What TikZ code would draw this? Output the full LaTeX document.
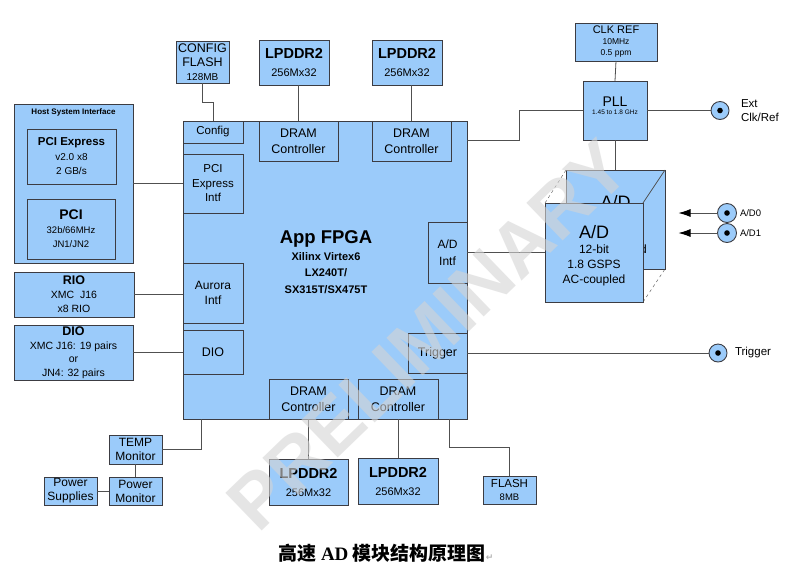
\documentclass[tikz,border=0pt]{standalone}
\usepackage{fontspec}
\setmainfont{Liberation Sans}
\newfontfamily\cjkfont{Noto Sans CJK SC}
\newfontfamily\timesfont{Liberation Serif}
\newfontfamily\symfont{DejaVu Sans}
\usetikzlibrary{positioning,calc,arrows.meta}
\definecolor{boxblue}{RGB}{155,203,250}
\definecolor{edgegray}{RGB}{60,60,66}
\definecolor{wiregray}{RGB}{80,80,80}
\definecolor{wmgray}{RGB}{212,212,212}
\newcommand\fsz[2]{\fontsize{#1}{#2}\selectfont}
\tikzset{
  blockpic/.style={x=1pt,y=-1pt,inner sep=0pt,outer sep=0pt}
  ,wh/.style 2 args={minimum width=#1pt,minimum height=#2pt}
  ,blk/.style={draw=edgegray,line width=.9pt,fill=boxblue,align=center
    ,font=\fsz{12.5}{16}}
  ,wire/.style={draw=wiregray,line width=.8pt}
  ,cubeedge/.style={draw=wiregray,line width=.4pt,dashed}
  ,jack/.style={circle,draw=edgegray,line width=.9pt,fill=boxblue
    ,minimum size=18pt
    ,path picture={\fill[black] (path picture bounding box.center) circle (2.8pt);}}
  ,jacklabel/.style={align=left,font=\fsz{11.5}{13.5}}
  ,sig/.style={wire,-{Latex[length=12pt,width=8pt,black]}}
  ,watermark/.style={font=\bfseries\fsz{76}{76},text=wmgray,opacity=.6}
}
\newcommand\lpddrblock[3]{
\node[blk,#2,font=\fsz{11}{18}] (#1) at (#3) {{\bfseries\fsz{14.5}{18}LPDDR2}\\256Mx32};
}
\newcommand\adtext{{\fsz{18}{20}A/D}\\12-bit\\1.8 GSPS\\AC-coupled}

\begin{document}
\begin{tikzpicture}[blockpic]
  \path[use as bounding box,fill=white] (0,0) rectangle (786,574);
  % host side
  \node[blk,wh={119}{159}] (hostsys) at (73.5,183.5) {};
  \node[font=\bfseries\fsz{8}{9}] (hosttitle) at (73.5,112) {Host System Interface};
  \node[blk,wh={89}{55},font=\fsz{10}{14.5}] (pcie) at (71.5,156.5)
    {{\bfseries\fsz{11.5}{14.5}PCI Express}\\v2.0 x8\\2 GB/s};
  \node[blk,wh={88}{60},font=\fsz{9.5}{14}] (pci) at (71,229)
    {{\bfseries\fsz{14}{17}PCI}\\32b/66MHz\\JN1/JN2};
  \node[blk,wh={120}{45},font=\fsz{10.5}{14}] (rio) at (74,294.5)
    {{\bfseries\fsz{12.5}{14}RIO}\\XMC\ \ J16\\x8 RIO};
  \node[blk,wh={119}{55},font=\fsz{10.5}{13.5}] (dio) at (73.5,352.5)
    {{\bfseries\fsz{12.5}{15}DIO}\\XMC J16: 19 pairs\\or\\JN4: 32 pairs};
  % fpga
  \node[blk,wh={284}{298}] (fpga) at (325,270) {};
  \node[align=center,font=\bfseries\fsz{11}{16.5}] (fpgatitle) at (326,262)
    {{\fsz{18.5}{18}App FPGA}\\Xilinx Virtex6\\LX240T/\\SX315T/SX475T};
  \node[blk,wh={60}{22},font=\fsz{11.5}{14}] (config) at (213,132) {Config};
  \node[blk,wh={60}{59},font=\fsz{11.5}{14.5}] (pcieintf) at (213,183.5) {PCI\\Express\\Intf};
  \node[blk,wh={60}{60},font=\fsz{12}{15}] (aurora) at (213,293) {Aurora\\Intf};
  \node[blk,wh={60}{44}] (diointf) at (213,352) {DIO};
  \node[blk,wh={79}{40}] (dramtl) at (298.5,141) {DRAM\\Controller};
  \node[blk,wh={79}{40}] (dramtr) at (411.5,141) {DRAM\\Controller};
  \node[blk,wh={79}{40}] (drambl) at (308.5,399) {DRAM\\Controller};
  \node[blk,wh={80}{40}] (drambr) at (398,399) {DRAM\\Controller};
  \node[blk,wh={39}{61},font=\fsz{12}{17}] (adintf) at (447.5,252.5) {A/D\\Intf};
  \node[blk,wh={59}{40}] (trig) at (437.5,353) {Trigger};
  % memories and flash
  \lpddrblock{lpddrtl}{wh={70}{45}}{294,62.5}
  \lpddrblock{lpddrtr}{wh={70}{45}}{407,62.5}
  \lpddrblock{lpddrbl}{wh={79}{46}}{308.5,482}
  \lpddrblock{lpddrbr}{wh={80}{46}}{398,481}
  \node[blk,wh={53}{42},font=\fsz{12.5}{14}] (cfgflash) at (202.5,62)
    {CONFIG\\FLASH\\{\fsz{10}{14}128MB}};
  \node[blk,wh={53}{28},font=\fsz{9.5}{13}] (flash) at (509.5,490)
    {{\fsz{11.5}{13}FLASH}\\8MB};
  % monitors
  \node[blk,wh={53}{29},font=\fsz{12}{14}] (temp) at (135.5,449.5) {TEMP\\Monitor};
  \node[blk,wh={53}{28},font=\fsz{12}{14}] (pwrmon) at (135.5,491) {Power\\Monitor};
  \node[blk,wh={53}{28},font=\fsz{12}{14}] (pwrsup) at (70.5,491) {Power\\Supplies};
  % clock
  \node[blk,wh={82}{38},font=\fsz{8.5}{11}] (clkref) at (616,42)
    {{\fsz{11}{13}CLK REF}\\10MHz\\0.5 ppm};
  \node[blk,wh={64}{59}] (pll) at (615,110.5) {};
  \node[align=center,font=\fsz{6.5}{8}] (plltext) at ([yshift=5pt]pll.center)
    {{\fsz{14}{13}PLL}\\1.45 to 1.8 GHz};
  % a/d cube
  \node[blk,wh={99}{99}] (adback) at (615.5,219.5) {};
  \node[align=center,font=\fsz{12}{15}] (adbacktext) at ([yshift=-6pt]adback.center) {\adtext};
  \node[blk,wh={98}{99}] (adfront) at (594,252.5) {};
  \node[align=center,font=\fsz{12}{15}] (adfronttext) at ([yshift=-3pt]adfront.center) {\adtext};
  \draw[cubeedge] (adfront.north west) -- (adback.north west);
  \draw[cubeedge] (adfront.south east) -- (adback.south east);
  \draw[wire] (adfront.north east) -- (adback.north east);
  % jacks
  \node[jack] (extclk) at (720,110.5) {};
  \node[jack,minimum size=19pt] (ad0) at (727,213) {};
  \node[jack,minimum size=19pt] (ad1) at (727,233) {};
  \node[jack] (trigjack) at (718,353) {};
  \node[jacklabel,right=12pt of extclk] (extlbl) {Ext\\Clk/Ref};
  \node[jacklabel,font=\fsz{9.5}{11},right=3.5pt of ad0] (ad0lbl) {A/D0};
  \node[jacklabel,font=\fsz{9.5}{11},right=3.5pt of ad1] (ad1lbl) {A/D1};
  \node[jacklabel,right=8pt of trigjack] (triglbl) {Trigger};
  % wires
  \draw[wire] (hostsys.east) -- (pcieintf.west);
  \draw[wire] (rio.east) -- (rio.east -| aurora.west);
  \draw[wire] (dio.east) -- (dio.east -| diointf.west);
  \draw[wire] (cfgflash.south) -- ++(0,19) -| (config.north);
  \draw[wire] (lpddrtl.south -| dramtl.north) -- (dramtl.north);
  \draw[wire] (lpddrtr.south -| dramtr.north) -- (dramtr.north);
  \draw[wire] (drambl.south) -- (drambl.south |- lpddrbl.north);
  \draw[wire] (drambr.south) -- (drambr.south |- lpddrbr.north);
  \draw[wire] ([xshift=-18pt]fpga.south east) -- ++(0,28) -| (flash.north);
  \draw[wire] (temp.east) -| ([xshift=18pt]fpga.south west);
  \draw[wire] (temp.south) -- (pwrmon.north);
  \draw[wire] (pwrsup.east) -- (pwrmon.west);
  \draw[wire] (clkref.south) -- (pll.north);
  \draw[wire] ([yshift=-19pt]fpga.north east) -- ++(52,0) |- (pll.west);
  \draw[wire] (pll.south) -- (pll.south |- adback.north);
  \draw[wire] (pll.east) -- (extclk.west);
  \draw[wire] (adintf.east) -- (adfront.west);
  \draw[wire] (trig.east) -- (trigjack.west);
  \draw[sig] (ad0.west) -- ++(-39,0);
  \draw[sig] (ad1.west) -- ++(-39,0);
  % caption and watermark
  \node[font=\bfseries\fsz{19}{22}] (caption) at (386,553)
    {{\cjkfont 高速 }{\timesfont AD}{\cjkfont\ 模块结构原理图}{\symfont\fsz{9}{10}\color{gray!60}↵}};
  \node[watermark,rotate=44] (wmark) at (428,335) {PRELIMINARY};
\end{tikzpicture}
\end{document}
